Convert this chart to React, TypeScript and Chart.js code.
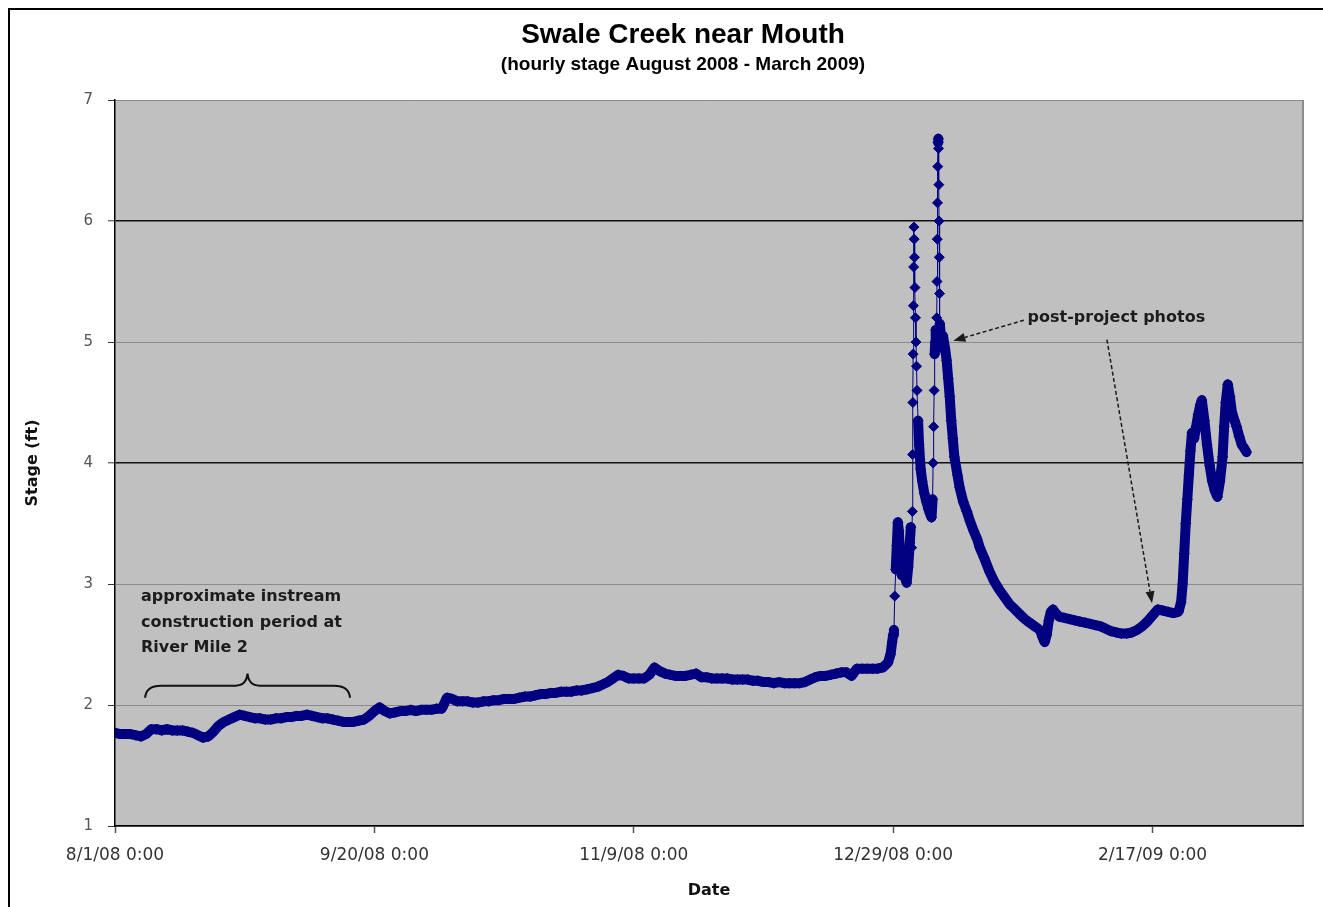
import React, { useEffect, useRef } from "react";
import { Chart, registerables } from "chart.js";

Chart.register(...registerables);

// ---- texts ----
const chartTitle = "Swale Creek near Mouth";
const chartSubtitle = "(hourly stage August 2008 - March 2009)";
const xAxisTitle = "Date";
const yAxisTitle = "Stage (ft)";
const constructionNote = ["approximate instream", "construction period at", "River Mile 2"];
const photoNote = "post-project photos";

// ---- axis ticks (x = days since 8/1/08 0:00) ----
const tickDays = [0, 50, 100, 150, 200];
const tickLabels = ["8/1/08 0:00", "9/20/08 0:00", "11/9/08 0:00", "12/29/08 0:00", "2/17/09 0:00"];
const darkGridStages = [4, 6];

// ---- data: daily stage (ft), index = day since 8/1/08 ----
const dailyStageAugToDec = [
  1.77, 1.76, 1.76, 1.76, 1.75, 1.74, 1.76, 1.80, 1.80, 1.79,
  1.80, 1.79, 1.79, 1.79, 1.78, 1.77, 1.75, 1.73, 1.74, 1.78,
  1.83, 1.86, 1.88, 1.90, 1.92, 1.91, 1.90, 1.89, 1.89, 1.88,
  1.88, 1.89, 1.89, 1.90, 1.90, 1.91, 1.91, 1.92, 1.91, 1.90,
  1.89, 1.89, 1.88, 1.87, 1.86, 1.86, 1.86, 1.87, 1.88, 1.91,
  1.95, 1.98, 1.95, 1.93, 1.94, 1.95, 1.95, 1.96, 1.95, 1.96,
  1.96, 1.96, 1.97, 1.97, 2.06, 2.05, 2.03, 2.03, 2.03, 2.02,
  2.02, 2.03, 2.03, 2.04, 2.04, 2.05, 2.05, 2.05, 2.06, 2.07,
  2.07, 2.08, 2.09, 2.09, 2.10, 2.10, 2.11, 2.11, 2.11, 2.12,
  2.12, 2.13, 2.14, 2.15, 2.17, 2.19, 2.22, 2.25, 2.24, 2.22,
  2.22, 2.22, 2.22, 2.25, 2.31, 2.28, 2.26, 2.25, 2.24, 2.24,
  2.24, 2.25, 2.26, 2.23, 2.23, 2.22, 2.22, 2.22, 2.22, 2.21,
  2.21, 2.21, 2.21, 2.20, 2.20, 2.19, 2.19, 2.18, 2.19, 2.18,
  2.18, 2.18, 2.18, 2.19, 2.21, 2.23, 2.24, 2.24, 2.25, 2.26,
  2.27, 2.27, 2.24, 2.30, 2.30, 2.30, 2.30, 2.30, 2.31, 2.35,
];

// ---- data: storm season readings [day since 8/1/08, stage ft] ----
const stormSeasonStage: Array<[number, number]> = [
  [149.5, 2.42], [149.8, 2.52], [150.0, 2.58], [150.15, 2.62], [150.3, 2.90],
  [150.5, 3.12], [150.7, 3.32], [150.9, 3.51], [151.1, 3.44], [151.3, 3.25],
  [151.5, 3.12], [151.7, 3.07], [151.9, 3.20], [152.1, 3.10], [152.3, 3.05],
  [152.6, 3.01], [152.9, 3.14], [153.2, 3.34], [153.4, 3.47], [153.55, 3.30],
  [153.7, 3.60], [153.75, 4.07], [153.8, 4.50], [153.85, 4.90], [153.9, 5.30],
  [153.95, 5.62], [154.0, 5.95], [154.05, 5.85], [154.1, 5.70], [154.2, 5.45],
  [154.3, 5.20], [154.4, 5.00], [154.5, 4.80], [154.6, 4.60], [154.8, 4.35],
  [155.0, 4.15], [155.3, 3.95], [155.6, 3.85], [156.0, 3.75], [156.4, 3.68],
  [156.8, 3.62], [157.1, 3.58], [157.4, 3.55], [157.6, 3.70], [157.7, 4.00],
  [157.8, 4.30], [157.9, 4.60], [158.0, 4.90], [158.1, 5.00], [158.2, 5.10],
  [158.3, 5.05], [158.4, 5.20], [158.45, 5.50], [158.5, 5.85], [158.55, 6.15],
  [158.6, 6.45], [158.65, 6.65], [158.7, 6.68], [158.75, 6.60], [158.8, 6.30],
  [158.85, 6.00], [158.9, 5.70], [158.95, 5.40], [159.0, 5.15], [159.2, 5.05],
  [159.4, 4.95], [159.6, 5.05], [159.8, 5.00], [160.0, 4.95], [160.3, 4.85],
  [160.6, 4.70], [160.9, 4.55], [161.2, 4.35], [161.5, 4.20], [161.8, 4.05],
  [162.4, 3.90], [162.8, 3.80], [163.5, 3.68], [164.2, 3.60], [164.8, 3.52],
  [165.5, 3.44], [166.2, 3.37], [166.7, 3.30], [167.5, 3.22], [168.6, 3.10],
  [169.5, 3.02], [170.5, 2.95], [171.5, 2.89], [172.5, 2.83], [173.5, 2.79],
  [174.4, 2.75], [175.4, 2.71], [176.3, 2.68], [177.3, 2.65], [178.3, 2.62],
  [178.8, 2.56], [179.2, 2.52], [179.6, 2.58], [180.0, 2.70], [180.4, 2.77],
  [180.8, 2.79], [181.3, 2.76], [182, 2.73], [183, 2.72], [184, 2.71],
  [185, 2.70], [186, 2.69], [187, 2.68], [188, 2.67], [189, 2.66],
  [190, 2.65], [191, 2.63], [192, 2.61], [193, 2.60], [194, 2.59],
  [195, 2.59], [196, 2.60], [197, 2.62], [198, 2.65], [199, 2.69],
  [200, 2.74], [201, 2.79], [202, 2.78], [203, 2.77], [204, 2.76],
  [205, 2.77], [205.5, 2.85], [205.8, 3.00], [206.1, 3.25], [206.4, 3.50],
  [206.7, 3.70], [207.0, 3.90], [207.3, 4.10], [207.6, 4.25], [208.0, 4.20],
  [208.4, 4.30], [208.8, 4.40], [209.2, 4.48], [209.5, 4.52], [210.0, 4.35],
  [210.5, 4.15], [211.0, 3.98], [211.5, 3.85], [212.0, 3.77], [212.5, 3.72],
  [213.0, 3.85], [213.5, 4.05], [213.8, 4.30], [214.1, 4.50], [214.5, 4.65],
  [214.9, 4.55], [215.3, 4.42], [215.8, 4.35], [216.2, 4.30], [216.7, 4.22],
  [217.2, 4.15], [217.7, 4.12], [218.1, 4.09],
];

// ---- annotation anchors (data units) ----
const NOTE_ANCHOR = { day: 5.0, stage: 2.89 };
const BRACE = { fromDay: 5.8, toDay: 45.3, endStage: 2.06, flatStage: 2.16, tipStage: 2.26 };
const PHOTO_TEXT = { day: 175.9, stage: 5.2 };
const PHOTO_ARROWS = [
  { fromDay: 175.2, fromStage: 5.18, toDay: 161.6, toStage: 5.01 },
  { fromDay: 191.2, fromStage: 5.02, toDay: 199.9, toStage: 2.84 },
];

// ---- styles ----
const SERIES_COLOR = "#000080";
const PLOT_BG = "#c0c0c0";
const CANVAS_W = 1307;
const CANVAS_H = 899;
const TITLE_X = 675;
const BAND_WIDTH = 10;
const STEEP_PX_SLOPE = 25;

function drawArrow(ctx: CanvasRenderingContext2D, x1: number, y1: number, x2: number, y2: number) {
  const ang = Math.atan2(y2 - y1, x2 - x1);
  const len = 12;
  const half = 4.5;
  const bx = x2 - Math.cos(ang) * len;
  const by = y2 - Math.sin(ang) * len;
  ctx.setLineDash([4, 2.5]);
  ctx.beginPath();
  ctx.moveTo(x1, y1);
  ctx.lineTo(bx, by);
  ctx.stroke();
  ctx.setLineDash([]);
  ctx.beginPath();
  ctx.moveTo(x2, y2);
  ctx.lineTo(bx + Math.sin(ang) * half, by - Math.cos(ang) * half);
  ctx.lineTo(bx - Math.sin(ang) * half, by + Math.cos(ang) * half);
  ctx.closePath();
  ctx.fill();
}

const decorPlugin = {
  id: "decor",
  beforeDraw(chart: any) {
    const { ctx, chartArea: a } = chart;
    ctx.save();
    ctx.fillStyle = PLOT_BG;
    ctx.fillRect(a.left, a.top, a.right - a.left, a.bottom - a.top);
    ctx.strokeStyle = "#8c8c8c";
    ctx.lineWidth = 2;
    ctx.beginPath();
    ctx.moveTo(a.right, a.top);
    ctx.lineTo(a.right, a.bottom);
    ctx.stroke();
    ctx.restore();
  },
  afterDatasetsDraw(chart: any) {
    const { ctx } = chart;
    const xs = chart.scales.x;
    const ys = chart.scales.y;
    const px = (d: number) => xs.getPixelForValue(d);
    const py = (s: number) => ys.getPixelForValue(s);
    ctx.save();
    ctx.fillStyle = "#1c1c1c";
    ctx.font = 'bold 16px "DejaVu Sans"';
    ctx.textAlign = "left";
    ctx.textBaseline = "middle";
    constructionNote.forEach((line, i) => {
      ctx.fillText(line, px(NOTE_ANCHOR.day), py(NOTE_ANCHOR.stage) + i * 25.5);
    });
    const x0 = px(BRACE.fromDay);
    const x1 = px(BRACE.toDay);
    const xm = (x0 + x1) / 2;
    const yb = py(BRACE.endStage);
    const yf = py(BRACE.flatStage);
    const yt = py(BRACE.tipStage);
    ctx.strokeStyle = "#111";
    ctx.lineWidth = 2;
    ctx.beginPath();
    ctx.moveTo(x0, yb);
    ctx.quadraticCurveTo(x0 + 1, yf, x0 + 16, yf);
    ctx.lineTo(xm - 12, yf);
    ctx.quadraticCurveTo(xm - 1, yf, xm, yt);
    ctx.quadraticCurveTo(xm + 1, yf, xm + 12, yf);
    ctx.lineTo(x1 - 16, yf);
    ctx.quadraticCurveTo(x1 - 1, yf, x1, yb);
    ctx.stroke();
    ctx.fillText(photoNote, px(PHOTO_TEXT.day), py(PHOTO_TEXT.stage));
    ctx.strokeStyle = "#1a1a1a";
    ctx.fillStyle = "#1a1a1a";
    ctx.lineWidth = 1.5;
    PHOTO_ARROWS.forEach((a) => {
      drawArrow(ctx, px(a.fromDay), py(a.fromStage), px(a.toDay), py(a.toStage));
    });
    ctx.restore();
  },
  afterDraw(chart: any) {
    const { ctx } = chart;
    ctx.save();
    ctx.fillStyle = "#000";
    ctx.textAlign = "center";
    ctx.textBaseline = "middle";
    ctx.font = 'bold 28px "Liberation Sans"';
    ctx.fillText(chartTitle, TITLE_X, 27);
    ctx.font = 'bold 19px "Liberation Sans"';
    ctx.fillText(chartSubtitle, TITLE_X, 57);
    ctx.restore();
  },
};

export default function App() {
  const ref = useRef<HTMLCanvasElement>(null);
  useEffect(() => {
    document.body.style.overflow = "hidden";
    const points = [
      ...dailyStageAugToDec.map((v, i) => ({ x: i, y: v })),
      ...stormSeasonStage.map(([d, v]) => ({ x: d, y: v })),
    ];
    const chart = new Chart(ref.current as HTMLCanvasElement, {
      type: "line",
      data: {
        datasets: [
          {
            label: "Stage",
            data: points,
            borderColor: SERIES_COLOR,
            backgroundColor: SERIES_COLOR,
            borderWidth: 1,
            borderJoinStyle: "round",
            borderCapStyle: "round",
            segment: {
              borderWidth: (c: any) => {
                const dx = Math.abs(c.p1.x - c.p0.x);
                const dy = Math.abs(c.p1.y - c.p0.y);
                return dy <= STEEP_PX_SLOPE * Math.max(dx, 0.01) ? BAND_WIDTH : 1;
              },
            },
            pointStyle: "rectRot",
            pointRadius: 5,
            pointBorderWidth: 1,
            pointBackgroundColor: SERIES_COLOR,
            pointBorderColor: SERIES_COLOR,
            tension: 0,
            fill: false,
          },
        ],
      },
      options: {
        animation: false,
        responsive: false,
        devicePixelRatio: 1,
        layout: { padding: { left: 10, right: 12, top: 92, bottom: 0 } },
        plugins: {
          legend: { display: false },
          tooltip: { enabled: false },
          title: { display: false },
        },
        scales: {
          x: {
            type: "linear",
            min: 0,
            max: 229,
            afterBuildTicks: (scale: any) => {
              scale.ticks = tickDays.map((v) => ({ value: v }));
            },
            afterFit: (scale: any) => {
              scale.height = 81;
            },
            ticks: {
              autoSkip: false,
              maxRotation: 0,
              padding: 12,
              color: "#333",
              font: { family: "DejaVu Sans", size: 17 },
              callback: (value: any) => {
                const i = tickDays.indexOf(Number(value));
                return i >= 0 ? tickLabels[i] : "";
              },
            },
            grid: {
              drawOnChartArea: false,
              drawTicks: true,
              tickLength: 7,
              tickColor: "#555",
              tickWidth: 1.5,
            },
            border: { display: true, color: "#000", width: 1.5 },
            title: {
              display: true,
              text: xAxisTitle,
              color: "#111",
              font: { family: "DejaVu Sans", size: 16, weight: "bold" },
              padding: { top: 4, bottom: 7 },
            },
          },
          y: {
            min: 1,
            max: 7,
            afterFit: (scale: any) => {
              scale.width = 97;
            },
            ticks: {
              stepSize: 1,
              padding: 15,
              color: "#555",
              font: { family: "DejaVu Sans", size: 15 },
            },
            grid: {
              color: (c: any) =>
                darkGridStages.includes(c.tick?.value) ? "#101010" : "#8a8a8a",
              lineWidth: (c: any) => (darkGridStages.includes(c.tick?.value) ? 1.6 : 1),
              drawTicks: true,
              tickLength: 7,
              tickColor: "#333",
              tickWidth: 1,
            },
            border: { display: true, color: "#000", width: 1.5 },
            title: {
              display: true,
              text: yAxisTitle,
              color: "#111",
              font: { family: "DejaVu Sans", size: 16, weight: "bold" },
              padding: { top: 5, bottom: 0 },
            },
          },
        },
      },
      plugins: [decorPlugin],
    } as any);
    return () => chart.destroy();
  }, []);

  return (
    <div style={{ position: "relative", width: CANVAS_W, height: CANVAS_H }}>
      <canvas
        ref={ref}
        width={CANVAS_W}
        height={CANVAS_H}
        style={{ display: "block", width: CANVAS_W, height: CANVAS_H }}
      />
      <div
        style={{
          position: "fixed",
          left: 8,
          top: 8,
          right: -20,
          bottom: -20,
          borderTop: "2px solid #000",
          borderLeft: "2px solid #000",
          pointerEvents: "none",
        }}
      />
    </div>
  );
}
